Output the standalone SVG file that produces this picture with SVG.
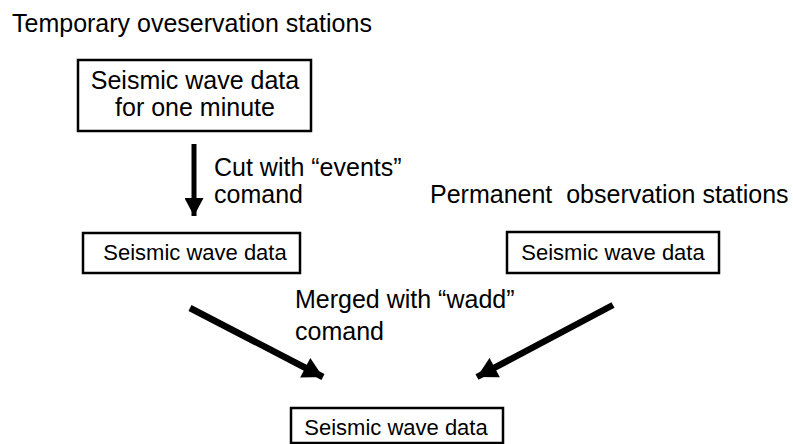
<svg xmlns="http://www.w3.org/2000/svg" width="793" height="444" viewBox="0 0 793 444">
<style>
text{font-family:"Liberation Sans",Arial,sans-serif;fill:#000}
.box{fill:#fff;stroke:#000;stroke-width:2.5}
.big{font-size:25px}
.small{font-size:22px}
.conn{stroke:#000;stroke-width:5;fill:none}
.diag{stroke-width:6.5}
</style>
<defs>
<marker id="ah" markerUnits="userSpaceOnUse" markerWidth="19" markerHeight="19" refX="18" refY="9.5" orient="auto" viewBox="0 0 18 19">
<path d="M0,0 L18,9.5 L0,19 Z" fill="#000"/>
</marker>
<marker id="ah2" markerUnits="userSpaceOnUse" markerWidth="22" markerHeight="22" refX="20" refY="11" orient="auto" viewBox="0 0 20 22">
<path d="M0,0 L20,11 L0,22 Z" fill="#000"/>
</marker>
</defs>
<rect width="793" height="444" fill="#fff"/>
<text class="big" x="12" y="32">Temporary oveservation stations</text>
<g id="node-temp">
<rect class="box" x="78" y="60" width="233" height="71"/>
<text class="big" x="195" y="89" text-anchor="middle">Seismic wave data</text>
<text class="big" x="195" y="116" text-anchor="middle">for one minute</text>
</g>
<g id="node-cut">
<rect class="box" x="83" y="233" width="217" height="40"/>
<text class="small" x="195" y="260" text-anchor="middle">Seismic wave data</text>
</g>
<text class="big" x="430" y="203" xml:space="preserve" style="white-space:pre">Permanent  observation stations</text>
<g id="node-perm">
<rect class="box" x="507" y="232" width="212" height="41"/>
<text class="small" x="613" y="260" text-anchor="middle">Seismic wave data</text>
</g>
<g id="node-merged">
<rect class="box" x="291" y="408" width="212" height="35"/>
<text class="small" x="396" y="435" text-anchor="middle">Seismic wave data</text>
</g>
<g id="connectors">
<line class="conn" x1="194" y1="144" x2="194" y2="216" marker-end="url(#ah)"/>
<line class="conn diag" x1="190" y1="308" x2="323" y2="377" marker-end="url(#ah2)"/>
<line class="conn diag" x1="613" y1="305" x2="477" y2="377" marker-end="url(#ah2)"/>
</g>
<text class="big" x="214" y="176">Cut with “events”</text>
<text class="big" x="214" y="203">comand</text>
<text class="big" x="295" y="308">Merged with “wadd”</text>
<text class="big" x="295" y="340">comand</text>
</svg>
